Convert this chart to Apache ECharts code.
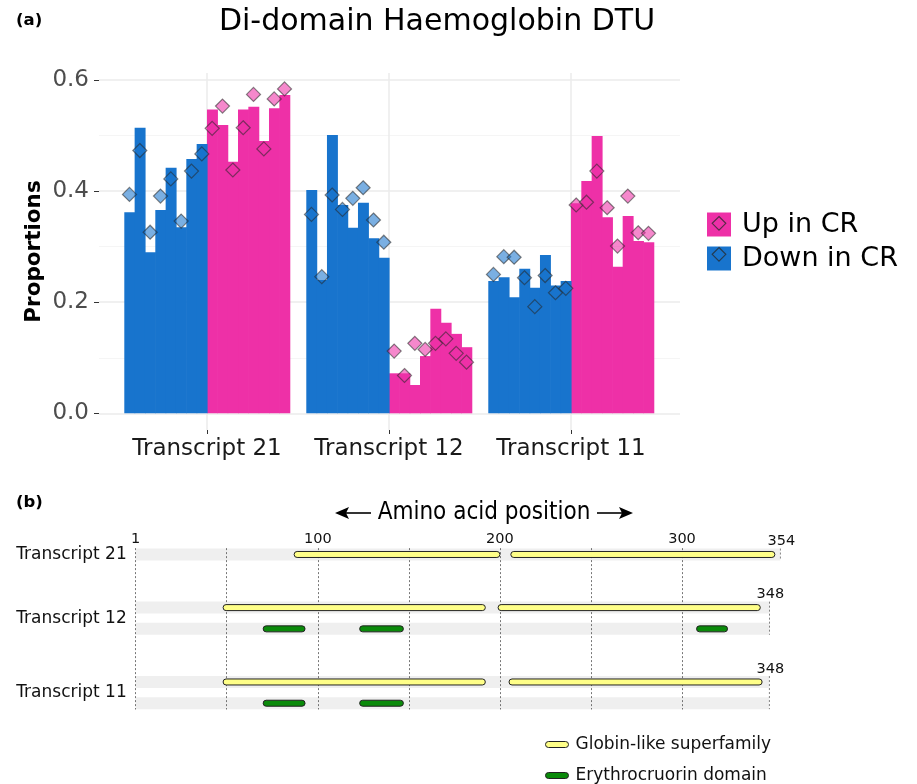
<!DOCTYPE html>
<html>
<head>
<meta charset="utf-8">
<script src="https://cdn.jsdelivr.net/npm/echarts@6/dist/echarts.min.js"></script>
<style>
  html, body { margin: 0; padding: 0; background: #fff; }
  #chart { width: 917px; height: 784px; }
</style>
</head>
<body>
<div id="chart"></div>
<script>
  // ---- panel (a): proportions per sample ----
  const transcripts = ['Transcript 21', 'Transcript 12', 'Transcript 11'];
  const yTicks = [0, 0.2, 0.4, 0.6];

  // bar heights, 8 samples per condition, one row per transcript
  const downBars = [
    [0.362, 0.514, 0.290, 0.366, 0.442, 0.335, 0.458, 0.485],
    [0.402, 0.240, 0.501, 0.375, 0.334, 0.379, 0.315, 0.280],
    [0.238, 0.245, 0.209, 0.260, 0.226, 0.285, 0.230, 0.238]
  ];
  const upBars = [
    [0.547, 0.519, 0.453, 0.547, 0.552, 0.490, 0.549, 0.573],
    [0.072, 0.072, 0.051, 0.103, 0.188, 0.163, 0.143, 0.119],
    [0.378, 0.418, 0.499, 0.353, 0.264, 0.355, 0.310, 0.308]
  ];
  // diamonds
  const downPoints = [
    [0.394, 0.473, 0.326, 0.391, 0.422, 0.346, 0.436, 0.467],
    [0.358, 0.246, 0.393, 0.367, 0.387, 0.406, 0.348, 0.308],
    [0.250, 0.282, 0.281, 0.244, 0.192, 0.248, 0.217, 0.225]
  ];
  const upPoints = [
    [0.513, 0.553, 0.438, 0.514, 0.574, 0.476, 0.566, 0.584],
    [0.112, 0.068, 0.126, 0.115, 0.126, 0.134, 0.108, 0.092],
    [0.375, 0.380, 0.436, 0.370, 0.301, 0.391, 0.325, 0.324]
  ];

  // ---- panel (b): protein domains ----
  const proteinLength = [354, 348, 348];
  const aaTicks = [0, 100, 200, 300];
  // [transcript index, start, end]
  const globinDomains = [[0, 87, 200], [0, 206, 351], [1, 48, 192], [1, 199, 343], [2, 48, 192], [2, 205, 344]];
  const erythroDomains = [[1, 70, 93], [1, 123, 147], [1, 308, 325], [2, 70, 93], [2, 123, 147]];

  const PINK = '#EE30A7', BLUE = '#1874CD';
  const barW = 0.0568;
  const FONT = 'DejaVu Sans';

  function barX(i, j) { return i + (j - 7.5) * barW; }

  function toBars(rows, off) {
    const out = [];
    rows.forEach((r, i) => r.forEach((v, j) => out.push([barX(i, j + off), v])));
    return out;
  }

  // track rows for panel (b)
  const nTracks = transcripts.map((t, i) => erythroDomains.some(d => d[0] === i) ? 2 : 1);
  const rowStart = [];
  nTracks.forEach((n, i) => {
    rowStart.push(i === 0 ? 0 : rowStart[i - 1] + nTracks[i - 1] - 1 + 2.5);
  });

  function barItem(params, api) {
    const x = api.value(0), v = api.value(1);
    const a = api.coord([x - barW / 2, v]);
    const b = api.coord([x + barW / 2, 0]);
    return {
      type: 'rect',
      shape: { x: a[0], y: a[1], width: b[0] - a[0] + 0.6, height: b[1] - a[1] },
      style: api.style()
    };
  }

  function capsule(params, api) {
    const p0 = api.coord([api.value(0), api.value(2)]);
    const p1 = api.coord([api.value(1), api.value(2)]);
    const h = 6;
    return {
      type: 'rect',
      shape: { x: p0[0], y: p0[1] - h / 2, width: p1[0] - p0[0], height: h, r: h / 2 },
      style: { fill: api.visual('color'), stroke: '#222', lineWidth: 1 }
    };
  }

  function trackBg(params, api) {
    const i = api.value(0), len = api.value(1), y0 = api.value(2), n = api.value(3);
    const children = [];
    for (let k = 0; k < n; k++) {
      const a = api.coord([0, y0 + k]);
      const b = api.coord([len, y0 + k]);
      children.push({ type: 'rect', shape: { x: a[0], y: a[1] - 6, width: b[0] - a[0], height: 12 },
        style: { fill: '#efefef' } });
    }
    const top = api.coord([len, y0 - 0.28]);
    const bot = api.coord([len, y0 + n - 1 + 0.28]);
    children.push({ type: 'line', shape: { x1: top[0], y1: top[1], x2: bot[0], y2: bot[1] },
      style: { stroke: '#666', lineWidth: 0.8, lineDash: [2, 2] } });
    const lp = api.coord([len, y0]);
    children.push({ type: 'text', style: { text: String(len), x: lp[0] + 1, y: lp[1] - 13,
      align: 'center', verticalAlign: 'middle', font: '14.5px ' + FONT, fill: '#111' } });
    const np = api.coord([0, y0 + (n - 1) / 2]);
    children.push({ type: 'text', style: { text: transcripts[i], x: np[0] - 9, y: np[1],
      align: 'right', verticalAlign: 'middle', font: '17px ' + FONT, fill: '#111' } });
    return { type: 'group', children: children };
  }

  const chart = echarts.init(document.getElementById('chart'));
  const capsuleIcon = 'path://M3,0 L20,0 A3,3 0 0 1 20,6 L3,6 A3,3 0 0 1 3,0 Z';
  const arrowStyle = { stroke: '#000', lineWidth: 1.6 };
  const domainLegend = {
    orient: 'vertical', left: 545, padding: 0,
    icon: capsuleIcon, itemWidth: 23, itemHeight: 6,
    itemStyle: { borderColor: '#222', borderWidth: 1 },
    textStyle: { fontSize: 17, lineHeight: 16, color: '#111', padding: [0, 0, 0, 2] }
  };

  chart.setOption({
    animation: false,
    textStyle: { fontFamily: FONT },
    graphic: [
      { type: 'text', style: { text: 'Di-domain Haemoglobin DTU', x: 437, y: 22, align: 'center', verticalAlign: 'middle', font: '30px ' + FONT, fill: '#000' } },
      { type: 'text', style: { text: '(a)', x: 16, y: 21, align: 'left', verticalAlign: 'middle', font: 'bold 16.5px ' + FONT, fill: '#000' } },
      { type: 'text', style: { text: '(b)', x: 16, y: 503, align: 'left', verticalAlign: 'middle', font: 'bold 16.5px ' + FONT, fill: '#000' } },
      { type: 'text', style: { text: 'Amino acid position', x: 484, y: 513, align: 'center', verticalAlign: 'middle', font: '24px "DejaVu Sans Condensed", ' + FONT, fill: '#000' } },
      { type: 'line', shape: { x1: 342, y1: 513, x2: 371, y2: 513 }, style: arrowStyle },
      { type: 'polygon', shape: { points: [[335, 513], [349, 507], [346, 513], [349, 519]] }, style: { fill: '#000' } },
      { type: 'line', shape: { x1: 597, y1: 513, x2: 626, y2: 513 }, style: arrowStyle },
      { type: 'polygon', shape: { points: [[633, 513], [619, 507], [622, 513], [619, 519]] }, style: { fill: '#000' } },
      { type: 'polygon', shape: { points: [[719, 216.5], [725.8, 223.3], [719, 230.1], [712.2, 223.3]] }, style: { fill: 'none', stroke: 'rgba(40,40,40,0.75)', lineWidth: 1.2 }, z: 100 },
      { type: 'polygon', shape: { points: [[719, 247.5], [725.8, 254.3], [719, 261.1], [712.2, 254.3]] }, style: { fill: 'none', stroke: 'rgba(40,40,40,0.75)', lineWidth: 1.2 }, z: 100 }
    ],
    legend: [
      {
        data: ['Up in CR', 'Down in CR'],
        orient: 'vertical', left: 707, top: 211, padding: 0,
        icon: 'rect', itemWidth: 24, itemHeight: 24, itemGap: 7,
        itemStyle: { borderWidth: 0 },
        textStyle: { fontSize: 27, lineHeight: 24, color: '#000', padding: [0, 0, 0, 6] }
      },
      Object.assign({ data: ['Globin-like superfamily'], top: 736 }, domainLegend),
      Object.assign({ data: ['Erythrocruorin domain'], top: 767 }, domainLegend)
    ],
    grid: [
      { left: 99, right: 237, top: 80, bottom: 370.7 },
      { left: 207, right: 346, top: 73, bottom: 354 },
      { left: 135.7, right: 235, top: 548.1, bottom: 74.4 }
    ],
    xAxis: [
      { type: 'value', gridIndex: 0, min: -0.5934, max: 2.599, show: false, axisLine: { onZero: false } },
      {
        type: 'category', gridIndex: 1, data: transcripts, boundaryGap: false,
        axisLine: { show: false, onZero: false },
        axisTick: { show: true, interval: 0, length: 4, lineStyle: { color: '#333', width: 1 } },
        axisLabel: { interval: 0, fontSize: 23, color: '#1a1a1a', margin: 8 },
        splitLine: { show: true, interval: 0, lineStyle: { color: '#ebebeb', width: 1.5 } }
      },
      {
        type: 'value', gridIndex: 2, min: 0, max: 300, interval: 50, position: 'top',
        axisLine: { show: false, onZero: false }, axisTick: { show: false },
        axisLabel: {
          fontSize: 14.5, color: '#111', margin: 1,
          formatter: v => aaTicks.indexOf(v) < 0 ? '' : (v === 0 ? '1' : String(v))
        },
        splitLine: { show: true, lineStyle: { color: '#555', width: 0.8, type: [2, 2] } }
      }
    ],
    yAxis: [
      {
        type: 'value', gridIndex: 0, min: 0, max: 0.6, interval: 0.2, position: 'left',
        axisLine: { show: false, onZero: false },
        axisTick: { show: true, length: 5, lineStyle: { color: '#333' } },
        axisLabel: { fontSize: 23, color: '#4d4d4d', margin: 10,
          formatter: v => yTicks.some(t => Math.abs(t - v) < 1e-9) ? v.toFixed(1) : '' },
        splitLine: { show: true, lineStyle: { color: '#ebebeb', width: 1.5 } }
      },
      {
        type: 'value', gridIndex: 0, min: 0, max: 0.6, interval: 0.1, position: 'left',
        axisLine: { show: false, onZero: false }, axisTick: { show: false }, axisLabel: { show: false },
        splitLine: { show: true, lineStyle: { color: '#f0f0f0', width: 0.7 } }
      },
      {
        type: 'value', gridIndex: 1, name: 'Proportions', nameLocation: 'middle', nameGap: 162,
        nameTextStyle: { fontSize: 21.5, fontWeight: 'bold', color: '#000' },
        axisLine: { show: false, onZero: false }, axisTick: { show: false }, axisLabel: { show: false },
        splitLine: { show: false }
      },
      { type: 'value', gridIndex: 2, min: -0.3, max: 7.3, inverse: true, show: false, axisLine: { onZero: false } }
    ],
    series: [
      { name: 'Up in CR', type: 'custom', xAxisIndex: 0, yAxisIndex: 0, renderItem: barItem,
        itemStyle: { color: PINK }, data: toBars(upBars, 8), encode: { x: 0, y: 1 } },
      { name: 'Down in CR', type: 'custom', xAxisIndex: 0, yAxisIndex: 0, renderItem: barItem,
        itemStyle: { color: BLUE }, data: toBars(downBars, 0), encode: { x: 0, y: 1 } },
      { name: 'Down in CR', type: 'scatter', xAxisIndex: 0, yAxisIndex: 0, symbol: 'diamond', symbolSize: 14,
        itemStyle: { color: 'rgba(24,116,205,0.72)', borderColor: 'rgba(40,40,40,0.7)', borderWidth: 1.2 },
        data: toBars(downPoints, 0), z: 5 },
      { name: 'Up in CR', type: 'scatter', xAxisIndex: 0, yAxisIndex: 0, symbol: 'diamond', symbolSize: 14,
        itemStyle: { color: 'rgba(238,48,167,0.72)', borderColor: 'rgba(40,40,40,0.7)', borderWidth: 1.2 },
        data: toBars(upPoints, 8), z: 5 },
      { name: 'tracks', type: 'custom', xAxisIndex: 2, yAxisIndex: 3, renderItem: trackBg, z: -1,
        data: proteinLength.map((len, i) => [i, len, rowStart[i], nTracks[i]]), encode: { x: 1, y: 2 } },
      { name: 'Globin-like superfamily', type: 'custom', xAxisIndex: 2, yAxisIndex: 3, renderItem: capsule,
        itemStyle: { color: '#ffff88', borderColor: '#222', borderWidth: 1 },
        data: globinDomains.map(d => [d[1], d[2], rowStart[d[0]]]), encode: { x: [0, 1], y: 2 } },
      { name: 'Erythrocruorin domain', type: 'custom', xAxisIndex: 2, yAxisIndex: 3, renderItem: capsule,
        itemStyle: { color: '#0a8a0a', borderColor: '#222', borderWidth: 1 },
        data: erythroDomains.map(d => [d[1], d[2], rowStart[d[0]] + 1]), encode: { x: [0, 1], y: 2 } }
    ]
  });
</script>
</body>
</html>
